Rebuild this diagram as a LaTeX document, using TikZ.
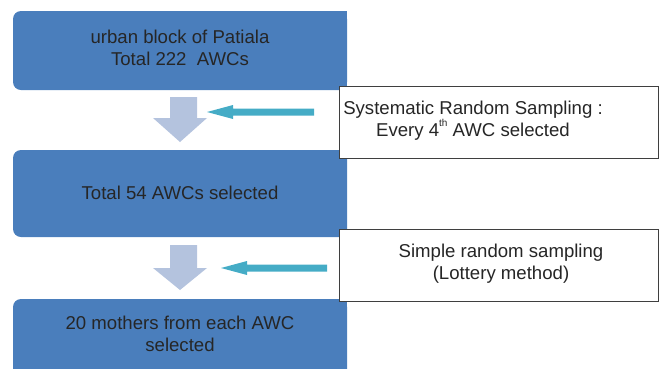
\documentclass[tikz,border=0pt]{standalone}
\usepackage{fontspec}
\setmainfont{Liberation Sans}
\definecolor{boxblue}{HTML}{4A7EBC}
\definecolor{downblue}{HTML}{B4C3DE}
\definecolor{teal}{HTML}{45ACC6}
\definecolor{txt}{HTML}{262626}
\definecolor{bord}{HTML}{3F3F3F}
\tikzset{
  bluebox/.style={fill=boxblue,draw=none},
  bluetext/.style={text=txt,align=center,font=\fontsize{18.6}{21.5}\selectfont,inner sep=0pt},
  sidebox/.style={draw=bord,line width=1.3pt,fill=white},
  sidetext/.style={text=txt,align=center,font=\fontsize{18.6}{22}\selectfont,inner sep=0pt},
  downarrow/.style={fill=downblue,draw=none},
  tealarrow/.style={fill=teal,draw=none}
}
\newcommand{\supth}{\raisebox{0.55em}{\fontsize{10}{10}\selectfont th}}
\begin{document}
\begin{tikzpicture}[x=1pt,y=-1pt]
\useasboundingbox (0,0) rectangle (659,368);
\clip (0,0) rectangle (659,368);
% blue boxes: rounded left corners, square right corners
\fill[bluebox,rounded corners=8pt] (13,11) rectangle (347,90);
\fill[bluebox] (100,11) rectangle (347,90);
\fill[bluebox,rounded corners=8pt] (13,150) rectangle (347,237);
\fill[bluebox] (100,150) rectangle (347,237);
\fill[bluebox,rounded corners=8pt] (13,299) rectangle (347,390);
\fill[bluebox] (100,299) rectangle (347,390);
\node[bluetext] (b1) at (180,48) {urban block of Patiala\\Total 222\ \ AWCs};
\node[bluetext] (b2) at (180,193) {Total 54 AWCs selected};
\node[bluetext] (b3) at (180,334) {20 mothers from each AWC\\selected};
% down arrows
\fill[downarrow] (170,97) -- (197,97) -- (197,118) -- (207,118) -- (180,142) -- (153,118) -- (170,118) -- cycle;
\fill[downarrow] (170,245) -- (197,245) -- (197,268) -- (207,268) -- (180,290) -- (153,268) -- (170,268) -- cycle;
% side boxes
\node[sidebox,minimum width=319pt,minimum height=72pt,anchor=north west] (s1) at (339,86) {};
\node[sidetext] (t1) at (473,121) {Systematic Random Sampling :\\Every 4\supth\ AWC selected};
\node[sidebox,minimum width=319pt,minimum height=72pt,anchor=north west] (s2) at (339,229) {};
\node[sidetext] (t2) at (501,264) {Simple random sampling\\(Lottery method)};
% teal arrows
\fill[tealarrow] (314,108.5) -- (233,108.5) -- (233,105) -- (207,112) -- (233,119) -- (233,115.5) -- (314,115.5) -- cycle;
\fill[tealarrow] (327,264.5) -- (247,264.5) -- (247,261) -- (221,268) -- (247,275) -- (247,271.5) -- (327,271.5) -- cycle;
\end{tikzpicture}
\end{document}
